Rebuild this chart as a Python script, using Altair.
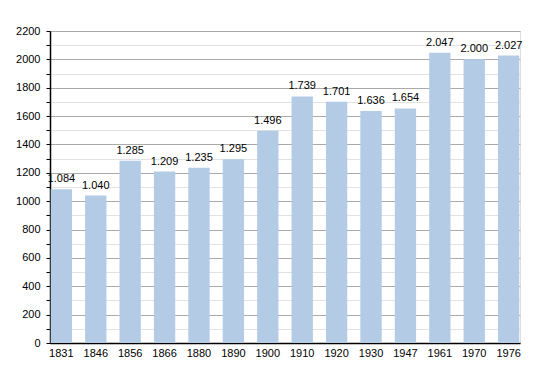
import altair as alt
import pandas as pd

years = ["1831", "1846", "1856", "1866", "1880", "1890", "1900", "1910", "1920", "1930", "1947", "1961", "1970", "1976"]
population = [1084, 1040, 1285, 1209, 1235, 1295, 1496, 1739, 1701, 1636, 1654, 2047, 2000, 2027]

df = pd.DataFrame({"year": years, "pop": population})
df["label"] = [f"{v:,}".replace(",", ".") for v in population]

font = "Liberation Sans"

x = alt.X("year:N", sort=years, title=None,
          scale=alt.Scale(paddingInner=0.38, paddingOuter=0.02),
          axis=alt.Axis(labelAngle=0, labelFont=font, labelFontSize=11, labelColor="#000",
                        domainColor="#000", domainWidth=1.5, ticks=False, labelPadding=4,
                        labelOverlap=False))
y = alt.Y("pop:Q", title=None,
          scale=alt.Scale(domain=[0, 2200], nice=False),
          axis=alt.Axis(values=list(range(0, 2201, 100)),
                        labelExpr="datum.value % 200 == 0 ? datum.label : ''",
                        format="d", labelOverlap=False, labelFlush=False,
                        labelFont=font, labelFontSize=11, labelColor="#000",
                        domainColor="#000", domainWidth=1.5,
                        tickColor="#000", tickSize=4, labelPadding=6, zindex=0,
                        gridColor={"condition": {"test": "datum.value % 200 == 0", "value": "#aaaaaa"}, "value": "#e2e2e2"},
                        gridWidth=1))

bars = alt.Chart(df).mark_bar(color="#b3cbe5").encode(x=x, y=y)
text = alt.Chart(df).mark_text(baseline="bottom", dy=-5, font=font, fontSize=11, color="#000").encode(
    x=x, y=y, text="label:N")

chart = (bars + text).properties(
    width=470, height=312,
    autosize=alt.AutoSizeParams(type="none"),
    padding={"left": 42, "top": 23, "right": 10, "bottom": 20},
).configure_view(stroke=None).configure(background="white")

chart.save("out.html", embed_options={"renderer": "svg", "actions": False})
